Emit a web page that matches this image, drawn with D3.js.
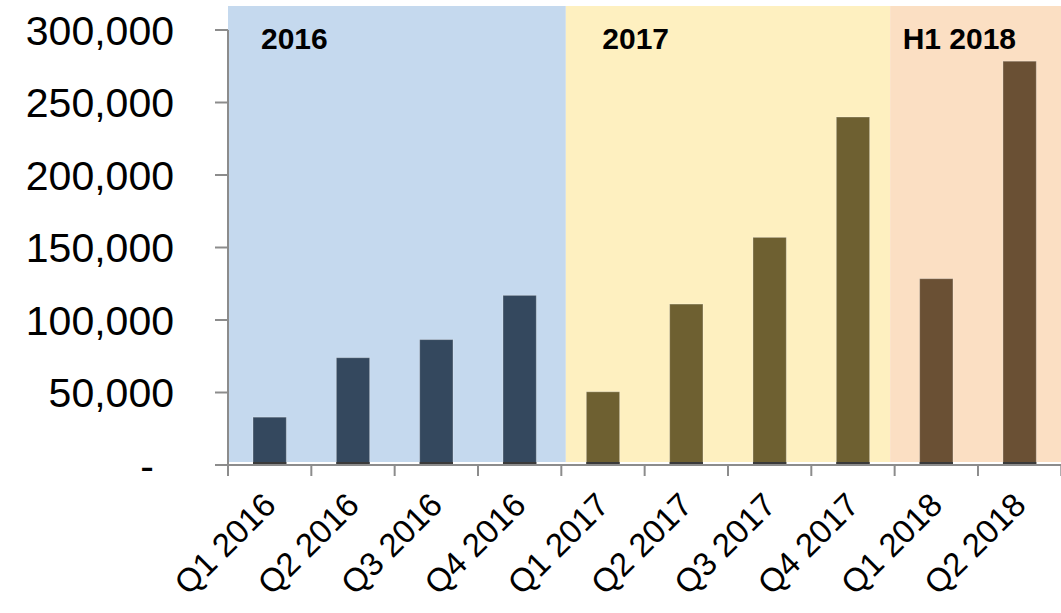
<!DOCTYPE html>
<html><head><meta charset="utf-8">
<script src="https://cdn.jsdelivr.net/npm/d3@7"></script>
<style>body{margin:0;background:#fff}svg{display:block}text{font-family:"Liberation Sans",Arial,sans-serif}</style>
</head><body><svg id="c" width="1061" height="613"></svg>
<script>
const categories = ["Q1 2016","Q2 2016","Q3 2016","Q4 2016","Q1 2017","Q2 2017","Q3 2017","Q4 2017","Q1 2018","Q2 2018"];
const values = [33000, 74000, 86500, 117000, 50500, 111000, 157000, 240000, 128500, 278500];
const groups = ["2016","2016","2016","2016","2017","2017","2017","2017","2018","2018"];
const periodNames = ["2016","2017","2018"];
const periodLabels = ["2016","2017","H1 2018"];
const yTicks = [0, 50000, 100000, 150000, 200000, 250000, 300000];

const barColor = {"2016":"#34485e","2017":"#6e6031","2018":"#6a5034"};
const bgColor = {"2016":"#c5d9ee","2017":"#fef0c0","2018":"#fbdfc3"};

const svg = d3.select("#c");
const x0 = 228, x1 = 1061.3, yBase = 465, yTop = 30;
const x = d3.scaleBand().domain(categories).range([x0, x1]).paddingInner(0.6).paddingOuter(0.3);
const step = x.step();
const y = d3.scaleLinear().domain([0, 300000]).range([yBase, yTop]);

// backgrounds
const first = p => categories[groups.indexOf(p)];
const bgStart = {"2016": x0, "2017": x(first("2017")) - step*0.3 + 4.5, "2018": x(first("2018")) - step*0.3 - 4.5};
const bgEnd = {"2016": bgStart["2017"], "2017": bgStart["2018"], "2018": 1061};
svg.append("g").selectAll("rect").data(periodNames).join("rect")
  .attr("x", d => bgStart[d]).attr("width", d => bgEnd[d]-bgStart[d])
  .attr("y", 6).attr("height", yBase-3-6)
  .attr("fill", d => bgColor[d]);

// period labels
const lblX = {"2016": x0 + 33, "2017": x(first("2017")) - step*0.3 + 41, "2018": x(first("2018")) - step*0.3 + 8};
svg.append("g").selectAll("text").data(periodNames).join("text")
  .attr("x", d => lblX[d]).attr("y", 49)
  .attr("font-size", 30).attr("font-weight", "bold").attr("fill", "#000")
  .text((d,i) => periodLabels[i]);

// bars
svg.append("g").selectAll("rect").data(categories).join("rect")
  .attr("x", d => x(d)).attr("width", x.bandwidth())
  .attr("y", (d,i) => y(values[i])).attr("height", (d,i) => yBase - y(values[i]))
  .attr("fill", (d,i) => barColor[groups[i]])
  .attr("stroke", "rgba(255,255,255,0.3)").attr("stroke-width", 1);
svg.append("g").selectAll("rect").data(categories).join("rect")
  .attr("x", d => x(d)).attr("width", x.bandwidth())
  .attr("y", yBase-3).attr("height", 3).attr("fill", "#3a3a3a");

// x axis
const xa = svg.append("g");
xa.append("line").attr("x1", x0).attr("x2", 1061).attr("y1", yBase).attr("y2", yBase)
  .attr("stroke", "#8c8c8c").attr("stroke-width", 2);
const tickPos = categories.map(c => x(c) - step*0.3).concat([x1]);
xa.selectAll("line.t").data(tickPos).join("line").attr("class","t")
  .attr("x1", d => d).attr("x2", d => d).attr("y1", yBase).attr("y2", yBase+11)
  .attr("stroke", "#8c8c8c").attr("stroke-width", 2);
xa.selectAll("text").data(categories).join("text")
  .attr("transform", d => `translate(${x(d) + x.bandwidth()/2 + 8},${yBase + 42}) rotate(-45)`)
  .attr("text-anchor", "end").attr("font-size", 33).attr("fill", "#000")
  .text(d => d);

// y axis
const ya = svg.append("g");
ya.append("line").attr("x1", x0).attr("x2", x0).attr("y1", yTop).attr("y2", yBase)
  .attr("stroke", "#8c8c8c").attr("stroke-width", 2);
ya.selectAll("line.t").data(yTicks).join("line").attr("class","t")
  .attr("x1", x0-13).attr("x2", x0).attr("y1", d => y(d)).attr("y2", d => y(d))
  .attr("stroke", "#8c8c8c").attr("stroke-width", 2);
const fmt = d3.format(",");
ya.selectAll("text").data(yTicks).join("text")
  .attr("x", d => d === 0 ? 154 : 174).attr("y", d => y(d)).attr("dy", "0.36em")
  .attr("text-anchor", "end").attr("font-size", 41).attr("fill", "#000")
  .text(d => d === 0 ? "-" : fmt(d));
</script></body></html>
